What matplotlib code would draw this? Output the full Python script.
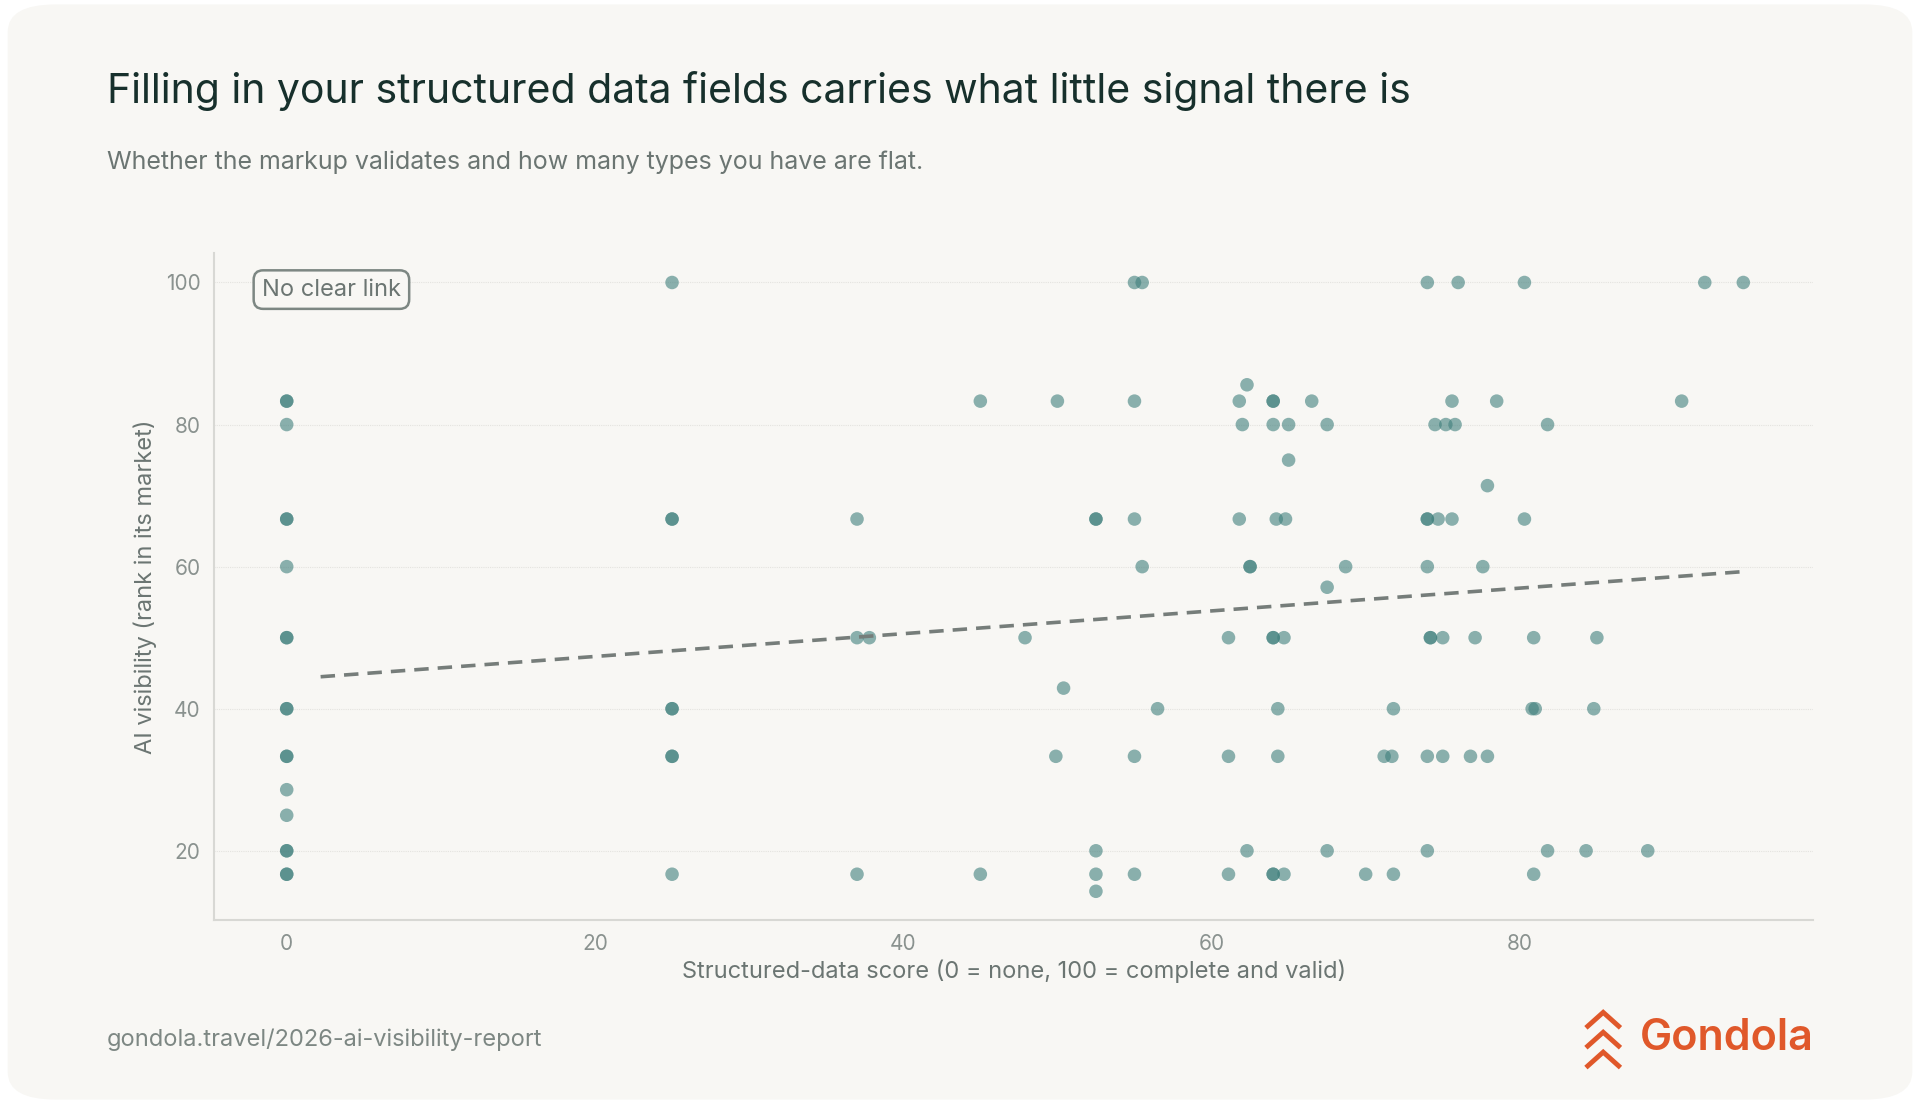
import matplotlib
matplotlib.use("Agg")
import matplotlib.pyplot as plt
from matplotlib.patches import FancyBboxPatch, Polygon

plt.rcParams["font.family"] = ["Inter", "DejaVu Sans"]

# structured-data score vs AI visibility rank
score = [
    25, 55, 55.5, 74, 76, 80.3, 92, 94.5,
    0, 0, 45, 50, 55, 61.8, 64, 64, 66.5, 75.6, 78.5, 90.5,
    62.3,
    0, 62, 64, 65, 67.5, 74.5, 75.2, 75.8, 81.8,
    65, 77.9,
    0, 0, 25, 25, 37, 52.5, 52.5, 55, 61.8, 64.2, 64.8, 74, 74, 74.7, 75.6, 80.3,
    0, 55.5, 62.5, 62.5, 68.7, 74, 77.6,
    67.5,
    0, 0, 37, 37.8, 47.9, 61.1, 64, 64, 64.7, 74.2, 74.2, 75, 77.1, 80.9, 85,
    50.4,
    0, 0, 25, 25, 56.5, 64.3, 71.8, 80.8, 81, 84.8,
    0, 0, 25, 25, 49.9, 55, 61.1, 64.3, 71.2, 71.7, 74, 75, 76.8, 77.9,
    0, 0,
    0, 0, 52.5, 62.3, 67.5, 74, 81.8, 84.3, 88.3,
    0, 0, 25, 37, 45, 52.5, 55, 61.1, 64, 64, 64.7, 70, 71.8, 80.9,
    52.5,
]
visibility = (
    [100] * 8
    + [83.3] * 12
    + [85.6]
    + [80] * 9
    + [75, 71.4]
    + [66.7] * 16
    + [60] * 7
    + [57.1]
    + [50] * 15
    + [42.9]
    + [40] * 10
    + [33.3] * 14
    + [28.6, 25]
    + [20] * 9
    + [16.7] * 14
    + [14.3]
)

trend_x = [2.2, 94.5]
trend_y = [44.5, 59.3]

x_ticks = [0, 20, 40, 60, 80]
y_ticks = [20, 40, 60, 80, 100]

BG = "#f8f7f4"
TEAL = "#3f7f7c"
orange = "#e0582a"

fig = plt.figure(figsize=(19.2, 11.04), dpi=100, facecolor="white")
card = FancyBboxPatch((0.004, 0.004), 0.992, 0.992,
                      boxstyle="round,pad=0,rounding_size=0.025",
                      transform=fig.transFigure, facecolor=BG,
                      edgecolor="none", zorder=-10)
fig.patches.append(card)

fig.text(0.0555, 0.918, "Filling in your structured data fields carries what little signal there is",
         fontsize=29.5, color="#17302c", va="center")
fig.text(0.0555, 0.853, "Whether the markup validates and how many types you have are flat.",
         fontsize=18, color="#6b7572", va="center")

ax = fig.add_axes([0.1116, 0.1663, 0.8329, 0.6042])
ax.set_facecolor("none")
ax.scatter(score, visibility, s=95, color=TEAL, alpha=0.6, edgecolors="none", zorder=3)
ax.plot(trend_x, trend_y, ls=(0, (4, 2.5)), color="#767d7a", lw=2.6, zorder=4)

ax.set_xlim(-4.7, 99.05)
ax.set_ylim(10.2, 104.1)
ax.set_xticks(x_ticks)
ax.set_yticks(y_ticks)
ax.tick_params(length=0, labelsize=15, colors="#8a928f", pad=10)
ax.grid(axis="y", color="#e4e3df", lw=0.8, ls=(0, (1, 1)))
ax.set_axisbelow(True)
for s in ("top", "right"):
    ax.spines[s].set_visible(False)
for s in ("left", "bottom"):
    ax.spines[s].set_color("#d8d8d4")
    ax.spines[s].set_linewidth(1.5)
ax.set_xlabel("Structured-data score (0 = none, 100 = complete and valid)",
              fontsize=17, color="#6b7572", labelpad=4)
ax.set_ylabel("AI visibility (rank in its market)", fontsize=17, color="#6b7572", labelpad=6)

ax.text(2.9, 99.0, "No clear link", fontsize=17, color="#6b7572", ha="center", va="center",
        bbox=dict(boxstyle="round,pad=0.35,rounding_size=0.4", fc=BG, ec="#7d8783", lw=1.8))

fig.text(0.0555, 0.058, "gondola.travel/2026-ai-visibility-report",
         fontsize=17, color="#7d8783", va="center")

# logo
fig.text(0.9445, 0.059, "Gondola", fontsize=31, color=orange, ha="right",
         va="center", fontweight="semibold")
cx, cy = 0.835, 0.059
for dy in (0.018, 0.0, -0.018):
    fig.patches.append(Polygon([(cx - 0.009, cy + dy - 0.008), (cx, cy + dy + 0.006),
                                (cx + 0.009, cy + dy - 0.008)], closed=False, fill=False,
                               edgecolor=orange, lw=3.5, transform=fig.transFigure))

fig.savefig("out.png", dpi=100, facecolor="white")
